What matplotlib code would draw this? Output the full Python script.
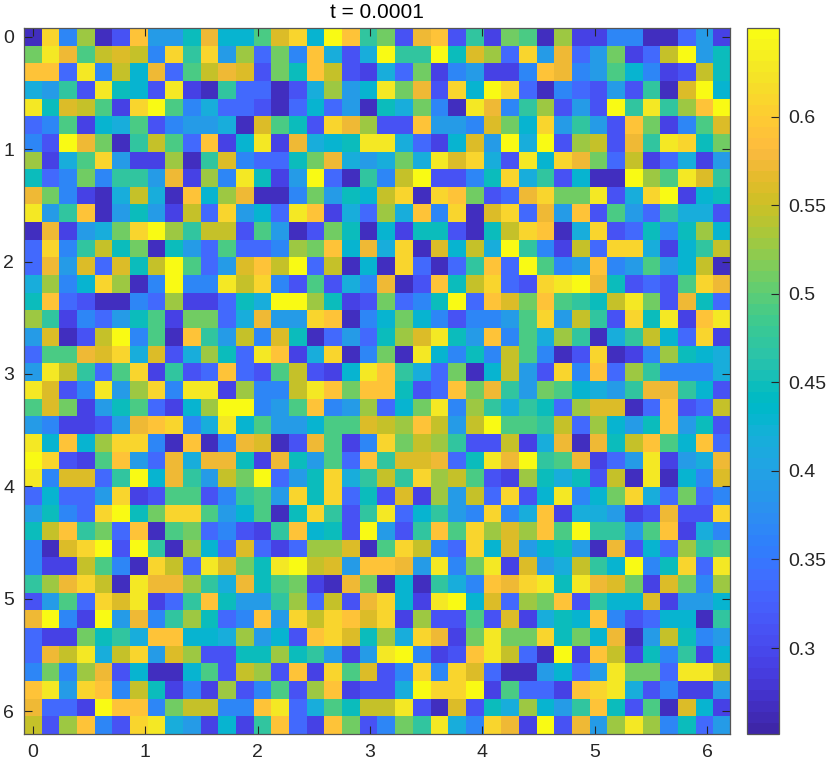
import numpy as np
import matplotlib
matplotlib.use("Agg")
import matplotlib.pyplot as plt
from matplotlib.colors import ListedColormap

plt.rcParams["font.family"] = ["Liberation Sans", "DejaVu Sans"]

# values, in thousandths, one list per grid row
rows = [
    [265,610,365,530,265,310,590,390,390,450,575,430,430,490,560,610,430,650,590,470,510,310,575,590,310,470,290,510,490,265,530,290,290,365,365,265,265,335,390,290],
    [510,630,575,490,545,560,545,365,610,470,610,390,530,335,510,365,590,415,310,415,650,470,470,650,450,560,530,335,610,390,575,335,390,510,290,335,545,650,390,450],
    [590,590,335,630,365,545,430,575,335,490,545,575,560,310,510,450,590,545,310,290,415,335,510,290,365,390,290,290,365,590,575,365,390,490,430,365,290,310,545,450],
    [415,390,470,310,630,450,430,310,630,290,265,470,335,335,265,310,415,530,390,430,630,510,575,310,610,430,650,610,335,265,365,335,310,390,310,470,265,560,650,430],
    [630,450,560,545,490,290,610,650,490,365,415,335,335,310,265,335,430,335,390,265,450,415,510,365,265,630,575,365,470,530,310,390,310,650,470,630,470,530,590,650],
    [335,365,490,290,430,415,490,310,365,390,390,415,265,560,490,450,310,610,575,530,310,310,590,390,390,365,560,510,430,610,390,470,390,310,590,510,290,365,490,560],
    [365,310,650,575,510,265,470,545,490,335,590,290,430,630,290,575,415,430,450,630,630,415,335,290,430,560,390,650,415,650,310,530,545,310,575,470,630,610,450,510],
    [530,290,415,490,610,390,290,290,530,265,470,560,365,335,335,450,510,575,415,390,415,510,415,630,560,610,415,310,630,430,610,575,510,335,545,290,335,415,290,390],
    [450,335,365,510,365,470,470,390,575,290,530,365,630,450,290,390,650,335,265,470,365,545,650,310,310,365,450,610,415,470,310,430,265,265,650,530,490,630,560,470],
    [575,510,365,290,265,415,545,415,265,590,430,530,575,265,265,365,510,390,450,430,545,610,265,610,590,510,310,335,575,610,510,510,630,310,415,610,650,290,430,450],
    [630,390,470,590,265,390,450,390,290,545,335,610,390,430,335,630,590,290,415,335,530,415,590,365,610,265,560,610,335,575,390,590,310,490,390,335,470,415,415,310],
    [265,575,290,390,415,510,610,650,530,470,545,545,310,490,390,265,310,510,450,265,430,290,450,450,310,265,450,545,610,590,265,415,610,310,335,450,365,450,530,430],
    [335,610,365,470,545,450,510,265,450,390,335,490,335,335,365,530,510,590,430,575,415,610,265,560,430,545,415,650,470,365,290,545,335,610,610,415,290,430,470,545],
    [335,575,390,560,335,560,450,545,650,490,335,390,560,590,545,650,335,545,265,430,265,610,335,265,335,470,590,335,650,490,365,390,590,365,390,490,390,430,545,265],
    [415,530,365,430,610,530,265,365,650,365,365,630,545,610,365,310,490,310,415,365,575,265,310,590,450,545,610,335,310,610,630,650,575,450,310,335,310,490,610,575],
    [450,590,335,310,265,265,365,335,530,290,290,335,450,415,650,650,530,450,290,310,510,335,365,450,650,335,590,560,510,590,490,470,450,545,630,510,310,575,450,335],
    [530,470,290,365,335,390,450,490,290,510,510,335,415,575,390,390,610,590,265,365,430,510,430,365,310,365,365,390,490,610,390,545,470,310,610,450,630,290,590,630],
    [390,560,265,310,545,650,365,490,265,590,470,390,545,365,560,450,265,335,390,335,450,530,560,630,450,390,590,365,490,415,530,470,265,415,470,545,430,335,610,290],
    [335,490,490,575,560,610,415,560,310,415,530,450,335,630,590,290,415,610,265,365,510,265,630,430,365,450,365,545,490,365,265,310,610,265,290,365,530,450,430,415],
    [390,630,545,470,335,490,610,290,470,310,335,590,335,310,490,545,310,290,430,630,590,470,415,335,510,265,430,545,390,310,610,365,590,335,530,470,365,365,365,415],
    [630,560,310,365,630,390,530,610,365,630,630,290,530,365,365,545,630,590,510,590,590,450,310,335,590,510,575,470,390,510,490,430,415,390,470,575,575,470,430,310],
    [490,560,510,290,390,450,490,335,290,430,530,650,650,365,390,490,590,365,390,530,335,430,510,630,365,530,470,415,470,450,335,530,560,560,265,335,590,310,335,545],
    [390,365,290,290,310,390,575,590,610,365,415,630,430,490,390,390,430,490,490,560,545,530,590,545,390,545,650,490,490,470,545,335,530,430,390,450,590,390,450,310],
    [630,430,590,430,530,610,610,365,265,590,265,365,575,560,265,310,575,490,290,365,610,510,545,530,470,310,310,545,290,415,575,265,575,450,545,590,490,430,590,335],
    [650,610,310,290,490,590,390,335,575,415,575,575,450,290,575,450,390,490,335,590,470,560,560,575,335,450,630,575,650,470,490,575,290,335,390,630,290,390,415,575],
    [630,365,560,560,335,470,650,430,575,470,390,545,510,650,335,390,450,610,415,470,545,470,610,530,545,490,310,290,530,450,415,450,310,545,265,630,265,430,365,560],
    [335,430,335,335,390,610,290,310,490,490,310,365,470,490,390,610,450,610,335,450,310,560,290,530,390,545,335,610,310,430,630,365,430,510,610,415,335,510,335,365],
    [390,450,365,335,610,650,450,510,610,610,490,390,430,490,265,450,610,470,310,470,630,335,430,470,390,365,610,365,415,590,290,415,415,390,290,310,575,310,310,610],
    [450,545,590,470,510,335,590,265,490,510,335,365,310,290,470,590,430,450,310,650,390,310,470,590,490,610,530,560,530,590,490,650,470,470,390,490,590,290,415,365],
    [365,265,560,610,650,310,650,470,265,530,430,335,560,335,290,335,530,530,560,265,490,610,545,365,335,610,430,560,390,430,450,390,265,575,310,430,335,530,470,490],
    [365,290,290,545,490,365,265,610,545,335,630,560,510,450,630,650,545,560,390,590,590,575,390,630,365,510,630,290,560,390,415,545,470,430,650,365,450,610,335,630],
    [470,530,575,610,545,265,630,575,575,530,470,415,575,450,490,510,290,265,575,510,265,430,265,470,415,365,590,575,610,630,450,630,575,560,510,290,560,510,365,530],
    [310,390,490,335,610,560,630,290,335,470,590,450,390,390,470,530,335,545,310,575,610,430,290,630,650,430,560,335,530,510,590,310,470,430,430,560,290,390,390,430],
    [575,650,365,290,650,390,575,365,470,530,450,335,365,590,390,610,545,610,590,560,610,290,530,310,310,490,310,560,290,415,450,430,590,365,310,335,430,430,265,470],
    [335,290,290,510,450,470,415,590,590,430,430,415,530,390,430,310,590,610,560,450,530,415,610,575,290,510,630,510,510,610,450,510,430,575,265,390,545,450,365,390],
    [335,575,545,630,415,545,610,390,560,530,310,310,450,450,530,450,470,390,290,390,630,650,365,290,310,590,630,545,335,265,650,290,590,545,290,450,365,470,290,430],
    [365,510,365,530,575,310,430,265,265,430,490,310,545,530,310,590,290,610,490,560,310,365,610,365,610,560,335,265,265,390,430,335,390,630,510,510,335,630,630,545],
    [590,630,390,610,590,365,545,450,290,365,290,530,310,365,490,310,530,590,290,310,310,415,650,610,610,650,290,490,335,335,290,590,610,630,415,310,365,290,290,390],
    [575,335,335,290,650,590,590,365,510,545,545,365,365,590,630,335,415,490,450,545,545,630,310,265,560,310,450,415,530,430,390,470,590,450,310,490,265,560,430,290],
    [545,310,530,590,365,310,610,630,415,390,290,430,290,470,590,335,290,590,510,310,365,510,470,630,415,365,610,575,290,650,310,575,390,530,630,530,365,450,335,390],
]
xticks = [0, 1, 2, 3, 4, 5, 6]
yticks = [0, 1, 2, 3, 4, 5, 6]
cticks = [0.3, 0.35, 0.4, 0.45, 0.5, 0.55, 0.6]
ctick_labels = ["0.3", "0.35", "0.4", "0.45", "0.5", "0.55", "0.6"]

# parula
parula = ListedColormap([
    (0.2422,0.1504,0.6603),(0.2504,0.1650,0.7076),(0.2578,0.1818,0.7511),(0.2647,0.1978,0.7952),
    (0.2706,0.2147,0.8364),(0.2751,0.2342,0.8710),(0.2783,0.2559,0.8991),(0.2803,0.2782,0.9221),
    (0.2813,0.3006,0.9414),(0.2810,0.3228,0.9579),(0.2795,0.3447,0.9717),(0.2760,0.3667,0.9829),
    (0.2699,0.3892,0.9906),(0.2602,0.4123,0.9952),(0.2440,0.4358,0.9988),(0.2206,0.4603,0.9973),
    (0.1963,0.4847,0.9892),(0.1834,0.5074,0.9798),(0.1786,0.5289,0.9682),(0.1764,0.5499,0.9520),
    (0.1687,0.5703,0.9359),(0.1540,0.5902,0.9218),(0.1460,0.6091,0.9079),(0.1380,0.6276,0.8973),
    (0.1248,0.6459,0.8883),(0.1113,0.6635,0.8763),(0.0952,0.6798,0.8598),(0.0689,0.6948,0.8394),
    (0.0297,0.7082,0.8163),(0.0036,0.7203,0.7917),(0.0067,0.7312,0.7660),(0.0433,0.7411,0.7394),
    (0.0964,0.7500,0.7120),(0.1408,0.7584,0.6842),(0.1717,0.7670,0.6554),(0.1938,0.7758,0.6251),
    (0.2161,0.7843,0.5923),(0.2470,0.7918,0.5567),(0.2906,0.7973,0.5188),(0.3406,0.8008,0.4789),
    (0.3909,0.8029,0.4354),(0.4456,0.8024,0.3909),(0.5044,0.7993,0.3480),(0.5616,0.7942,0.3045),
    (0.6174,0.7876,0.2612),(0.6720,0.7793,0.2227),(0.7242,0.7698,0.1910),(0.7738,0.7598,0.1646),
    (0.8203,0.7498,0.1535),(0.8634,0.7406,0.1596),(0.9035,0.7330,0.1774),(0.9393,0.7288,0.2100),
    (0.9728,0.7298,0.2394),(0.9956,0.7434,0.2371),(0.9970,0.7659,0.2199),(0.9952,0.7893,0.2028),
    (0.9892,0.8136,0.1885),(0.9786,0.8386,0.1766),(0.9676,0.8639,0.1643),(0.9610,0.8890,0.1537),
    (0.9597,0.9135,0.1423),(0.9628,0.9373,0.1265),(0.9691,0.9606,0.1064),(0.9769,0.9839,0.0805),
])

field = np.array(rows) / 1000
n = field.shape[0]
h = 2 * np.pi / n
W, H = 830, 767

fig = plt.figure(figsize=(W / 100, H / 100), dpi=100)
ax = fig.add_axes([24 / W, 1 - 734 / H, 706 / W, 706 / H])
cax = fig.add_axes([747 / W, 1 - 734 / H, 32 / W, 706 / H])

im = ax.imshow(field, cmap=parula, vmin=0.2515, vmax=0.65, origin="upper",
               extent=[-h / 2, 2 * np.pi - h / 2, 2 * np.pi - h / 2, -h / 2],
               aspect="auto", interpolation="nearest")
ax.set_xticks(xticks)
ax.set_yticks(yticks)
ax.tick_params(direction="in", length=5.5, width=0.8, color="#262626", labelcolor="#262626",
               labelsize=14, top=True, right=True, pad=7)
ax.set_title("t = 0.0001", fontsize=15, color="black", pad=7)

cb = fig.colorbar(im, cax=cax)
cb.set_ticks(cticks)
cb.set_ticklabels(ctick_labels)
cax.tick_params(direction="in", length=5.5, width=0.8, color="#262626", labelcolor="#262626",
                labelsize=14, pad=7)

for a in (ax, cax):
    for s in a.spines.values():
        s.set_color("#555555")
        s.set_linewidth(0.9)

fig.savefig("out.png", dpi=100)
